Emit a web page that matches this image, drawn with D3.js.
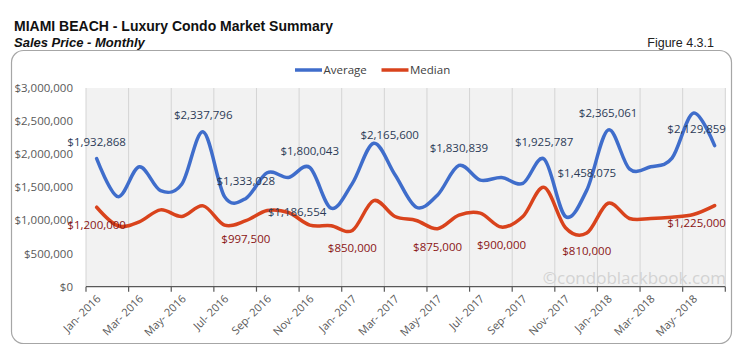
<!DOCTYPE html>
<html><head><meta charset="utf-8">
<script src="https://cdn.jsdelivr.net/npm/d3@7"></script>
<style>body{margin:0;background:#fff}svg{display:block}</style>
</head><body><svg id="c" width="736" height="355"></svg>
<script>
// ---- data ----
const months = ["Jan- 2016","Feb- 2016","Mar- 2016","Apr- 2016","May- 2016","Jun- 2016","Jul- 2016","Aug- 2016","Sep- 2016","Oct- 2016","Nov- 2016","Dec- 2016",
  "Jan- 2017","Feb- 2017","Mar- 2017","Apr- 2017","May- 2017","Jun- 2017","Jul- 2017","Aug- 2017","Sep- 2017","Oct- 2017","Nov- 2017","Dec- 2017",
  "Jan- 2018","Feb- 2018","Mar- 2018","Apr- 2018","May- 2018","Jun- 2018"];
const average = [1932868,1360000,1810000,1450000,1550000,2337796,1360000,1333028,1720000,1650000,1800043,1186554,
  1560000,2165600,1690000,1200000,1385000,1830839,1610000,1650000,1560000,1925787,1060000,1458075,
  2365061,1780000,1810000,1940000,2620000,2129859];
const median = [1200000,920000,980000,1160000,1060000,1220000,930000,997500,1150000,1120000,930000,920000,
  850000,1300000,1060000,1000000,875000,1080000,1110000,900000,1060000,1500000,890000,810000,
  1260000,1030000,1030000,1050000,1090000,1225000];
const yTicks = [0,500000,1000000,1500000,2000000,2500000,3000000];
const xTickLabels = ["Jan- 2016","Mar- 2016","May- 2016","Jul- 2016","Sep- 2016","Nov- 2016","Jan- 2017","Mar- 2017","May- 2017","Jul- 2017","Sep- 2017","Nov- 2017","Jan- 2018","Mar- 2018","May- 2018"];
const avgLabelIdx = [0,5,7,10,11,13,17,21,23,24,29];
const medLabelIdx = [0,7,12,16,19,23,29];
const seriesNames = ["Average","Median"];

// ---- layout / style ----
const W = 736, H = 355;
const L = 86, R = 725.3, T = 88, B = 286.7;
const blue = "#3f6dcb", red = "#d9431c";
const avgLblColor = "#2c3b57", medLblColor = "#8a1414";
const font = "'Open Sans', sans-serif";
const svg = d3.select("#c");

const x = d3.scaleBand().domain(months).range([L, R]).paddingInner(0).paddingOuter(0);
const cx = m => x(m) + x.bandwidth()/2;
const y = d3.scaleLinear().domain([0, 3000000]).range([B, T]);
const fmt = v => "$" + d3.format(",")(v);

// titles
svg.append("text").attr("x",14).attr("y",30.5).attr("font-family","'Liberation Sans', Arial, sans-serif")
  .attr("font-weight","bold").attr("font-size",14).attr("fill","#111").text("MIAMI BEACH - Luxury Condo Market Summary");
svg.append("text").attr("x",14).attr("y",46.5).attr("font-family","'Liberation Sans', Arial, sans-serif")
  .attr("font-weight","bold").attr("font-style","italic").attr("font-size",13).attr("fill","#111").text("Sales Price - Monthly");
svg.append("text").attr("x",714).attr("y",46.5).attr("text-anchor","end").attr("font-family","'Liberation Sans', Arial, sans-serif")
  .attr("font-size",12.5).attr("fill","#222").text("Figure 4.3.1");

// chart border
svg.append("rect").attr("x",11.5).attr("y",50.5).attr("width",720).attr("height",293).attr("rx",12).attr("ry",12)
  .attr("fill","#fff").attr("stroke","#a6a6a6").attr("stroke-width",1.2);

// plot area
svg.append("rect").attr("x",L).attr("y",T).attr("width",R-L).attr("height",B-T).attr("fill","#f2f2f2");

// vertical gridlines every 2 months
const gridIdx = d3.range(0, months.length, 2);
const gridX = gridIdx.map(i => x(months[i])).concat([R]);
svg.append("g").selectAll("line").data(gridX).join("line")
  .attr("x1",d=>d).attr("x2",d=>d).attr("y1",T).attr("y2",B)
  .attr("stroke","#d4d4d4").attr("stroke-width",1);

// watermark
svg.append("text").attr("x",726).attr("y",284).attr("text-anchor","end").attr("font-family",font)
  .attr("font-size",17).attr("fill","#d3d3d3").text("\u00A9condoblackbook.com");

// x axis
const xAxisG = svg.append("g");
xAxisG.append("line").attr("x1",L).attr("x2",R).attr("y1",B).attr("y2",B).attr("stroke","#595959").attr("stroke-width",1.2);
xAxisG.selectAll("line.tk").data(gridX).join("line").attr("class","tk")
  .attr("x1",d=>d).attr("x2",d=>d).attr("y1",B).attr("y2",B+5).attr("stroke","#595959").attr("stroke-width",1.2);
xAxisG.selectAll("text").data(xTickLabels).join("text")
  .attr("transform", d => `translate(${cx(d)+2},${B+10}) rotate(-45)`)
  .attr("text-anchor","end").attr("dy","0.35em").attr("font-family",font).attr("font-size",11)
  .attr("fill","#595959").text(d=>d);

// y axis labels
svg.append("g").selectAll("text").data(yTicks).join("text")
  .attr("x",73).attr("y",d=>y(d)).attr("dy","0.35em").attr("text-anchor","end")
  .attr("font-family",font).attr("font-size",11.5).attr("fill","#595959").text(d=>fmt(d));

// lines
const line = d3.line().x((d,i)=>cx(months[i])).y(d=>y(d)).curve(d3.curveCatmullRom.alpha(0));
svg.append("path").datum(median).attr("d",line).attr("fill","none").attr("stroke",red).attr("stroke-width",3.5).attr("stroke-linecap","round");
svg.append("path").datum(average).attr("d",line).attr("fill","none").attr("stroke",blue).attr("stroke-width",3.5).attr("stroke-linecap","round");

// data labels
const avgOffsets = {11:{dx:-34,dy:4}, 13:{dx:16,dy:-8}, 29:{dx:-18,dy:-17}};
svg.append("g").selectAll("text").data(avgLabelIdx).join("text")
  .attr("x", i => cx(months[i]) + ((avgOffsets[i]||{}).dx||0))
  .attr("y", i => y(average[i]) + (avgOffsets[i] ? avgOffsets[i].dy : -17))
  .attr("dy","0.35em").attr("text-anchor","middle").attr("font-family",font).attr("font-size",11.5)
  .attr("fill",avgLblColor).text(i=>fmt(average[i]));
const medOffsets = {29:{dx:-18,dy:17}};
svg.append("g").selectAll("text").data(medLabelIdx).join("text")
  .attr("x", i => cx(months[i]) + ((medOffsets[i]||{}).dx||0))
  .attr("y", i => y(median[i]) + (medOffsets[i] ? medOffsets[i].dy : 18))
  .attr("dy","0.35em").attr("text-anchor","middle").attr("font-family",font).attr("font-size",11.5)
  .attr("fill",medLblColor).text(i=>fmt(median[i]));

// legend
const legend = svg.append("g");
const legItems = [{name:seriesNames[0], color:blue, x0:295},{name:seriesNames[1], color:red, x0:381.5}];
legItems.forEach(it=>{
  legend.append("line").attr("x1",it.x0).attr("x2",it.x0+27).attr("y1",70).attr("y2",70).attr("stroke",it.color).attr("stroke-width",3.5);
  legend.append("text").attr("x",it.x0+28.5).attr("y",70).attr("dy","0.35em").attr("font-family",font).attr("font-size",11.5)
    .attr("fill","#404040").text(it.name);
});
</script></body></html>
